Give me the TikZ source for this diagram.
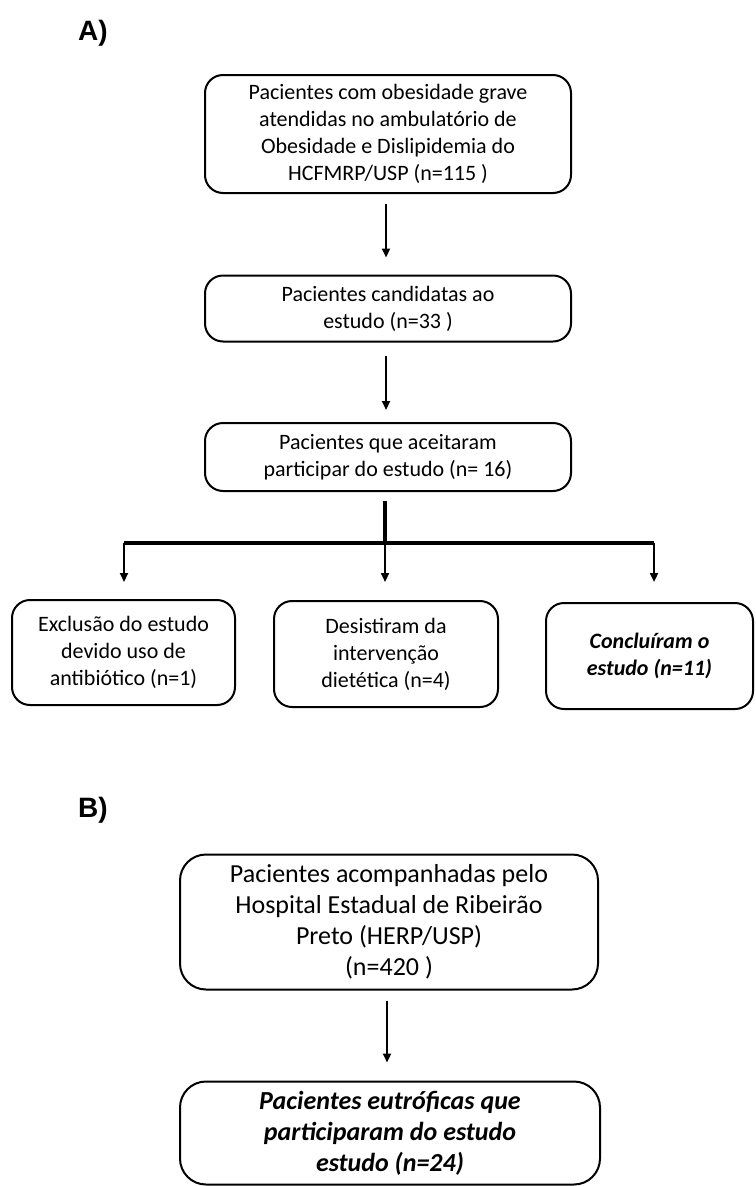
\documentclass[tikz,border=0pt]{standalone}
\usepackage{fontspec}
\setmainfont{Carlito}
\newfontfamily\arialfont{Liberation Sans}
\usetikzlibrary{arrows.meta}
\begin{document}
\begin{tikzpicture}[x=1pt,y=-1pt,
  box/.style={draw=black,line width=2pt,rounded corners=18pt,align=center,inner sep=0pt,
    font=\fontsize{22}{27}\selectfont,text=black},
  bigbox/.style={box,rounded corners=26pt,font=\fontsize{26}{31}\selectfont},
  arr/.style={line width=2.2pt,-{Triangle[length=9pt,width=8pt]}},
  bar/.style={line width=3.5pt},
  lbl/.style={font=\arialfont\bfseries\fontsize{28}{32}\selectfont,anchor=base west,inner sep=0pt}]
\useasboundingbox (0,0) rectangle (755,1186);

\node[lbl] (la) at (78,40) {A)};
\node[lbl] (lb) at (78,817) {B)};

\node[box,minimum width=366pt,minimum height=118pt] (b1) at (388,134)
  {Pacientes com obesidade grave\\atendidas no ambulatório de\\Obesidade e Dislipidemia do\\HCFMRP/USP (n=115 )};
\node[box,minimum width=366pt,minimum height=66pt] (b2) at (388,308.5)
  {Pacientes candidatas ao\\estudo (n=33 )};
\node[box,minimum width=366pt,minimum height=68pt] (b3) at (388,457)
  {Pacientes que aceitaram\\participar do estudo (n= 16)};
\node[box,minimum width=223pt,minimum height=105pt] (b4) at (123.5,652.5)
  {Exclusão do estudo\\devido uso de\\antibiótico (n=1)};
\node[box,minimum width=224pt,minimum height=106pt] (b5) at (386,654)
  {Desistiram da\\intervenção\\dietética (n=4)};
\node[box,minimum width=207pt,minimum height=106pt] (b6) at (649.5,656)
  {\bfseries\itshape Concluíram o\\\bfseries\itshape estudo (n=11)};

\node[bigbox,minimum width=418pt,minimum height=135pt] (b7) at (389,922)
  {Pacientes acompanhadas pelo\\Hospital Estadual de Ribeirão\\Preto (HERP/USP)\\(n=420 )};
\node[bigbox,minimum width=420pt,minimum height=103pt] (b8) at (390,1133)
  {\bfseries\itshape Pacientes eutróficas que\\\bfseries\itshape participaram do estudo\\\bfseries\itshape estudo (n=24)};

\coordinate (j) at (385,543);
\coordinate (bl) at (124,543);
\coordinate (br) at (654,543);

\draw[arr,shorten <=10pt,shorten >=17pt] (386,0 |- b1.south) -- (386,0 |- b2.north);
\draw[arr,shorten <=13pt,shorten >=12pt] (386,0 |- b2.south) -- (386,0 |- b3.north);
\draw[bar,shorten <=9pt] (j |- b3.south) -- (j);
\draw[bar] (bl) -- (br);
\draw[arr,shorten >=17pt] (bl) -- (bl |- b4.north);
\draw[arr,shorten >=18pt] (j) -- (j |- b5.north);
\draw[arr,shorten >=20pt] (br) -- (br |- b6.north);
\draw[arr,shorten <=10pt,shorten >=18pt] (387,0 |- b7.south) -- (387,0 |- b8.north);
\end{tikzpicture}
\end{document}
